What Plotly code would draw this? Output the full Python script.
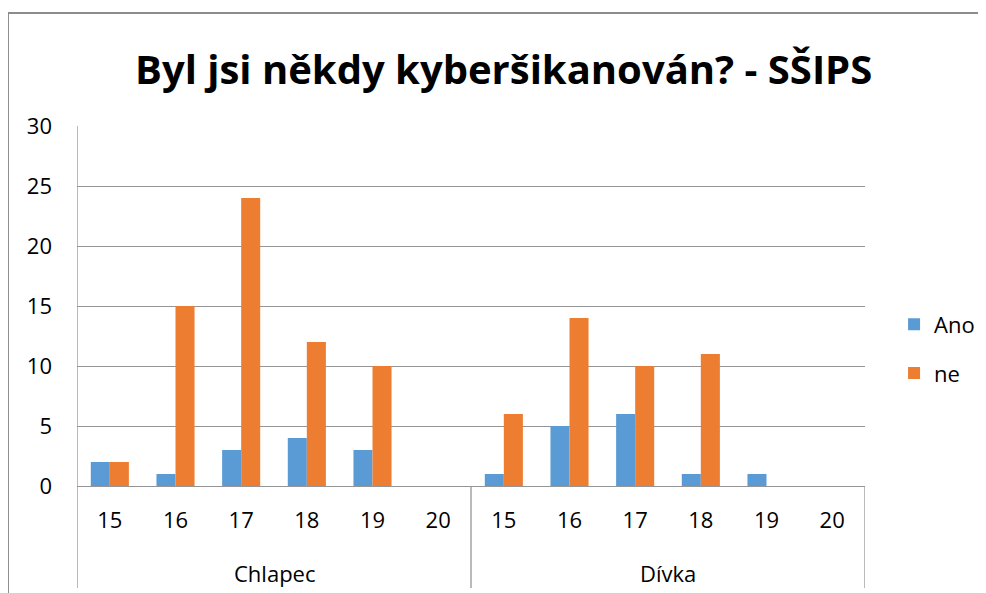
import plotly.graph_objects as go

# data
groups = ["Chlapec", "Dívka"]
ages = ["15", "16", "17", "18", "19", "20"]
ano = [2, 1, 3, 4, 3, 0, 1, 5, 6, 1, 1, 0]
ne = [2, 15, 24, 12, 10, 0, 6, 14, 10, 11, 0, 0]
y_ticks = [0, 5, 10, 15, 20, 25, 30]

BLUE = '#5B9BD5'
ORANGE = '#ED7D31'
GRID = '#959595'
FONT = 'Open Sans'

x_idx = list(range(len(groups) * len(ages)))
tick_text = ages * len(groups)

fig = go.Figure()

fig.add_trace(go.Bar(
    x=x_idx, y=ano, name='Ano',
    marker=dict(color=BLUE, line=dict(width=0)),
    legendgroup='a',
))
fig.add_trace(go.Bar(
    x=x_idx, y=ne, name='ne',
    marker=dict(color=ORANGE, line=dict(width=0)),
    legendgroup='b',
))

shapes = []
# group dividers below the category axis
n = len(ages)
for k in range(len(groups) + 1):
    xpos = k * n - 0.5
    shapes.append(dict(
        type='line', xref='x', yref='paper',
        x0=xpos, x1=xpos, y0=0 if k else 1, y1=-0.283,
        line=dict(color=GRID, width=1.3),
    ))
# outer chart frame (partly cropped in the reference)
shapes.append(dict(type='line', xref='paper', yref='paper',
                   x0=-0.0876, x1=1.2, y0=1.314, y1=1.314,
                   line=dict(color='#8c8c8c', width=2)))
shapes.append(dict(type='line', xref='paper', yref='paper',
                   x0=-0.0876, x1=-0.0876, y0=1.314, y1=-0.3,
                   line=dict(color='#8c8c8c', width=2)))

annotations = [dict(
    text='<b>Byl jsi někdy kyberšikanován? - SŠIPS</b>',
    xref='paper', yref='paper', x=0.541, y=1.16,
    xanchor='center', yanchor='middle', showarrow=False,
    font=dict(family=FONT, size=40, color='#000000'),
)]
for g, name in enumerate(groups):
    annotations.append(dict(
        text=name, xref='x', yref='paper',
        x=g * n + (n - 1) / 2, y=-0.242,
        xanchor='center', yanchor='middle', showarrow=False,
        font=dict(family=FONT, size=22, color='#000000'),
    ))

fig.update_layout(
    # the page body adds an 8px offset, so the figure is 8px smaller
    width=978, height=585,
    margin=dict(l=69, r=121, t=118, b=107, autoexpand=False),
    paper_bgcolor='white',
    plot_bgcolor='white',
    barmode='group',
    bargap=0.42,
    bargroupgap=0,
    font=dict(family=FONT, color='#000000'),
    xaxis=dict(
        range=[-0.5, len(x_idx) - 0.5],
        tickvals=x_idx, ticktext=tick_text,
        tickfont=dict(family=FONT, size=22),
        showgrid=False, zeroline=False, showline=False,
        ticks='', ticklabelstandoff=19,
        fixedrange=True,
    ),
    yaxis=dict(
        range=[0, 30],
        tickvals=y_ticks,
        tickfont=dict(family=FONT, size=22),
        showgrid=True, gridcolor=GRID, gridwidth=1.3,
        zeroline=True, zerolinecolor=GRID, zerolinewidth=1.3,
        showline=False, ticks='', ticklabelstandoff=24,
        fixedrange=True,
    ),
    legend=dict(
        xref='container', yref='container',
        x=0.906, y=0.417, xanchor='left', yanchor='middle',
        font=dict(family=FONT, size=22),
        traceorder='grouped', tracegroupgap=17,
        bgcolor='rgba(0,0,0,0)',
    ),
    shapes=shapes,
    annotations=annotations,
    showlegend=True,
)

fig.write_html("out.html")
